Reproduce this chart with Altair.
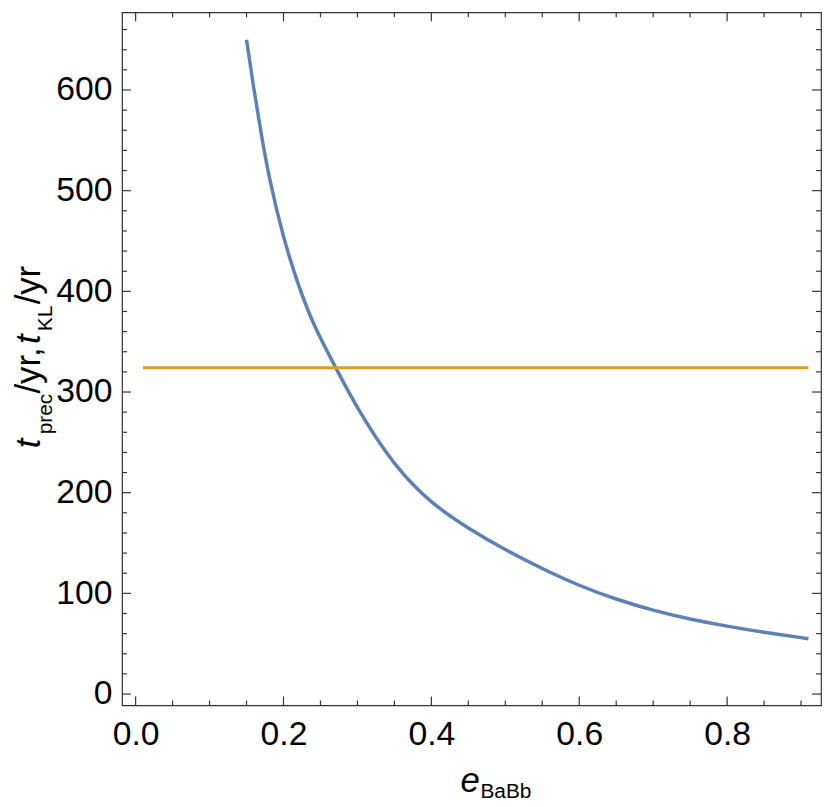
import altair as alt
import pandas as pd

# ---- data ----
e_vals = [0.15, 0.16, 0.17, 0.18, 0.20, 0.22, 0.24, 0.27, 0.30, 0.35, 0.40,
          0.45, 0.50, 0.55, 0.60, 0.65, 0.70, 0.75, 0.80, 0.85, 0.91]
t_prec = [650, 600, 556, 514, 452, 406, 367, 325, 283, 226, 189,
          164.5, 143, 124.5, 107.5, 94, 83, 74.3, 67.3, 61.3, 55]
e_kl = [0.01, 0.91]
t_kl = [324, 324]

x_major = [0.0, 0.2, 0.4, 0.6, 0.8]
x_minor = [0.05, 0.1, 0.15, 0.25, 0.3, 0.35, 0.45, 0.5, 0.55, 0.65, 0.7,
           0.75, 0.85, 0.9]
y_major = [0, 100, 200, 300, 400, 500, 600]
y_minor = [20, 40, 60, 80, 120, 140, 160, 180, 220, 240, 260, 280, 320, 340,
           360, 380, 420, 440, 460, 480, 520, 540, 560, 580, 620, 640, 660]

df_prec = pd.DataFrame({"e": e_vals, "t": t_prec})
df_kl = pd.DataFrame({"e": e_kl, "t": t_kl})

W, H = 705, 699
FONT = "Liberation Sans"
FRAME = "#333333"
MAIN, SUB = 34, 21
MAJ, MIN = 9, 5
YB_MAIN, YB_SUB = -83, -71   # baselines of the rotated y-title pieces

xscale = alt.Scale(domain=[-0.0184, 0.927], nice=False, zero=False)
yscale = alt.Scale(domain=[-11.3, 677.1], nice=False, zero=False)


def blank(**kw):
    base = dict(labels=False, ticks=False, domain=False, grid=False,
                titleFont=FONT, titleColor="black", titleFontWeight="normal")
    base.update(kw)
    return alt.Axis(**base)


def ytitle(text, start, base, size, italic=False):
    kw = dict(orient="left", title=text, titleAngle=270, titleAlign="left",
              titleBaseline="alphabetic", titleX=base, titleY=start,
              titleFontSize=size)
    if italic:
        kw["titleFontStyle"] = "italic"
    return blank(**kw)


def line(df, xaxis, yaxis, color="#E19C24", opacity=0.0, width=3, interp="linear"):
    return alt.Chart(df).mark_line(
        color=color, strokeWidth=width, strokeOpacity=opacity,
        interpolate=interp
    ).encode(
        x=alt.X("e:Q", scale=xscale, axis=xaxis),
        y=alt.Y("t:Q", scale=yscale, axis=yaxis),
    )


def xticks(values, at, length):
    return alt.Chart(pd.DataFrame({"e": values})).mark_rule(
        color=FRAME, strokeWidth=1.2
    ).encode(
        x=alt.X("e:Q", scale=xscale, axis=None),
        y=alt.value(at), y2=alt.value(at + length),
    )


def yticks(values, at, length):
    return alt.Chart(pd.DataFrame({"t": values})).mark_rule(
        color=FRAME, strokeWidth=1.2
    ).encode(
        y=alt.Y("t:Q", scale=yscale, axis=None),
        x=alt.value(at), x2=alt.value(at + length),
    )


label_x = alt.Axis(orient="bottom", values=x_major, format=".1f", ticks=False,
                   domain=False, grid=False, labelFont=FONT, labelFontSize=MAIN,
                   labelColor="black", labelPadding=12,
                   title="e", titleFont=FONT, titleFontSize=MAIN + 1,
                   titleFontStyle="italic", titleFontWeight="normal",
                   titleColor="black", titleAlign="left",
                   titleBaseline="alphabetic", titleX=341, titleY=87)
label_y = alt.Axis(orient="left", values=y_major, format="d", ticks=False,
                   domain=False, grid=False, labelFont=FONT, labelFontSize=MAIN,
                   labelColor="black", labelPadding=10,
                   title="t", titleFont=FONT, titleFontSize=MAIN + 1,
                   titleFontStyle="italic", titleFontWeight="normal",
                   titleColor="black", titleAngle=270, titleAlign="left",
                   titleBaseline="alphabetic", titleX=YB_MAIN, titleY=439)

layers = [
    xticks(x_major, H, -MAJ), xticks(x_minor, H, -MIN),
    xticks(x_major, 0, MAJ), xticks(x_minor, 0, MIN),
    yticks(y_major, 0, MAJ), yticks(y_minor, 0, MIN),
    yticks(y_major, W, -MAJ), yticks(y_minor, W, -MIN),
    line(df_prec, label_x, label_y, color="#5E81B5", opacity=1.0, width=3.5,
         interp="basis"),
    line(df_kl,
         blank(orient="bottom", title="BaBb", titleFontSize=SUB,
               titleAlign="left", titleBaseline="alphabetic",
               titleX=361, titleY=93),
         ytitle("prec", 425, YB_SUB, SUB),
         opacity=1.0, width=3),
    line(df_kl, None, ytitle("/yr,", 384, YB_MAIN, MAIN + 1)),
    line(df_kl, None, ytitle("t", 334, YB_MAIN, MAIN + 1, True)),
    line(df_kl, None, ytitle("KL", 321, YB_SUB, SUB)),
    line(df_kl, None, ytitle("/yr", 294, YB_MAIN, MAIN + 1)),
]

chart = alt.layer(*layers).resolve_axis(
    x="independent", y="independent"
).properties(
    width=W, height=H,
    padding={"left": 115, "top": 1, "right": 1, "bottom": 94},
    autosize=alt.AutoSizeParams(type="none"),
).configure_view(stroke=FRAME, strokeWidth=1.2)

chart.save("out.html", embed_options={"renderer": "svg", "actions": False})
